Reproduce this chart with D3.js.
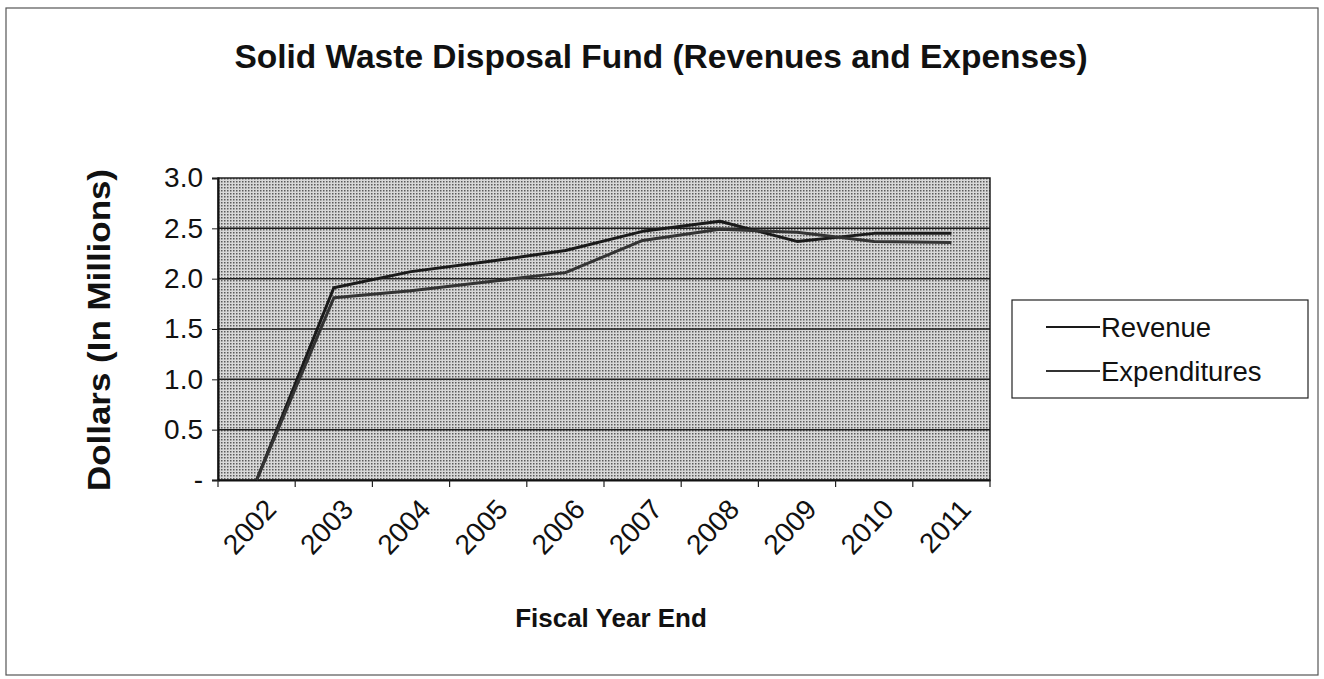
<!DOCTYPE html>
<html>
<head>
<meta charset="utf-8">
<script src="https://cdn.jsdelivr.net/npm/d3@7"></script>
<style>
  body { margin: 0; background: #fff; }
  text { font-family: "Liberation Sans", Arial, sans-serif; fill: #111; }
</style>
</head>
<body>
<svg id="chart"></svg>
<script>
//------------------------------------------------------------
// Data (millions of dollars)
const years = ["2002", "2003", "2004", "2005", "2006", "2007", "2008", "2009", "2010", "2011"];
const revenue = [0, 1.91, 2.07, 2.17, 2.28, 2.47, 2.57, 2.37, 2.45, 2.45];
const expenditures = [0, 1.81, 1.88, 1.97, 2.06, 2.38, 2.49, 2.46, 2.37, 2.36];
const yTicks = [0, 0.5, 1.0, 1.5, 2.0, 2.5, 3.0];

const series = [
  { name: "Revenue", values: revenue, color: "#1a1a1a" },
  { name: "Expenditures", values: expenditures, color: "#333" }
];

//------------------------------------------------------------
// Chart setup
const W = 1324, H = 679;
const margin = { top: 178, right: 334, bottom: 199, left: 218 };
const width = W - margin.left - margin.right;
const height = H - margin.top - margin.bottom;

const svg = d3.select("#chart")
  .attr("width", W)
  .attr("height", H);

// outer chart border
svg.append("rect")
  .attr("x", 6).attr("y", 8)
  .attr("width", 1312).attr("height", 667)
  .attr("fill", "none")
  .attr("stroke", "#555")
  .attr("stroke-width", 1.2);

// halftone-like grey for the plot area
const defs = svg.append("defs");
const pat = defs.append("pattern")
  .attr("id", "dots")
  .attr("width", 3).attr("height", 3)
  .attr("patternUnits", "userSpaceOnUse");
pat.append("rect").attr("width", 3).attr("height", 3).attr("fill", "#d8d8d8");
pat.append("rect").attr("width", 1.5).attr("height", 1.5).attr("fill", "#5a5a5a");

const g = svg.append("g")
  .attr("transform", `translate(${margin.left},${margin.top})`);

const x = d3.scaleBand().domain(years).range([0, width]);
const y = d3.scaleLinear().domain([0, 3]).range([height, 0]);

g.append("rect")
  .attr("width", width)
  .attr("height", height)
  .attr("fill", "url(#dots)")
  .attr("stroke", "#222")
  .attr("stroke-width", 1.5);

// gridlines
g.append("g")
  .selectAll("line")
  .data(yTicks.slice(1, -1))
  .join("line")
  .attr("x1", 0).attr("x2", width)
  .attr("y1", d => y(d)).attr("y2", d => y(d))
  .attr("stroke", "#1e1e1e")
  .attr("stroke-width", 1.5);

// Axes
const yAxis = g.append("g")
  .call(d3.axisLeft(y)
    .tickValues(yTicks)
    .tickSize(6)
    .tickPadding(9)
    .tickFormat(d => d === 0 ? "-" : d3.format(".1f")(d)));

const xAxis = g.append("g")
  .attr("transform", `translate(0,${height})`)
  .call(d3.axisBottom(x).tickSize(0).tickFormat(""));

// x ticks sit on the category boundaries
g.append("g")
  .selectAll("line")
  .data(d3.range(years.length + 1))
  .join("line")
  .attr("x1", i => i * x.step()).attr("x2", i => i * x.step())
  .attr("y1", height).attr("y2", height + 7)
  .attr("stroke", "#222")
  .attr("stroke-width", 1.2);

[yAxis, xAxis].forEach(a => {
  a.select(".domain").attr("stroke", "#111").attr("stroke-width", 2);
  a.selectAll(".tick line").attr("stroke", "#222");
});
yAxis.selectAll(".tick text")
  .style("font-size", "28px")
  .attr("fill", "#111");

// rotated year labels
g.append("g")
  .selectAll("text")
  .data(years)
  .join("text")
  .attr("transform", d => `translate(${x(d) + x.bandwidth() / 2 + 14},${height + 24}) rotate(-47)`)
  .attr("text-anchor", "end")
  .attr("dy", "0.35em")
  .style("font-size", "28px")
  .text(d => d);

// Labels
svg.append("text")
  .attr("x", 661)
  .attr("y", 68)
  .attr("text-anchor", "middle")
  .style("font-size", "33.5px")
  .style("font-weight", "bold")
  .text("Solid Waste Disposal Fund (Revenues and Expenses)");

svg.append("text")
  .attr("transform", "rotate(-90)")
  .attr("x", -330)
  .attr("y", 110)
  .attr("text-anchor", "middle")
  .attr("textLength", 322)
  .attr("lengthAdjust", "spacingAndGlyphs")
  .style("font-size", "31px")
  .style("font-weight", "bold")
  .text("Dollars (In Millions)");

svg.append("text")
  .attr("x", 611)
  .attr("y", 627)
  .attr("text-anchor", "middle")
  .style("font-size", "26px")
  .style("font-weight", "bold")
  .text("Fiscal Year End");

//------------------------------------------------------------
// Lines
const line = d3.line()
  .x((d, i) => x(years[i]) + x.bandwidth() / 2)
  .y(d => y(d));

g.selectAll(".series")
  .data(series)
  .join("path")
  .attr("class", "series")
  .attr("fill", "none")
  .attr("stroke", d => d.color)
  .attr("stroke-width", 3)
  .attr("stroke-linejoin", "round")
  .attr("d", d => line(d.values));

//------------------------------------------------------------
// Legend
const legend = svg.append("g").attr("transform", "translate(1012,300)");
legend.append("rect")
  .attr("width", 296).attr("height", 98)
  .attr("fill", "#fff")
  .attr("stroke", "#222")
  .attr("stroke-width", 1.2);

const item = legend.selectAll(".item")
  .data(series)
  .join("g")
  .attr("class", "item")
  .attr("transform", (d, i) => `translate(0,${27 + i * 44})`);
item.append("line")
  .attr("x1", 34).attr("x2", 88)
  .attr("stroke", d => d.color)
  .attr("stroke-width", 2);
item.append("text")
  .attr("x", 89)
  .attr("dy", "0.35em")
  .style("font-size", "27.5px")
  .text(d => d.name);
</script>
</body>
</html>
